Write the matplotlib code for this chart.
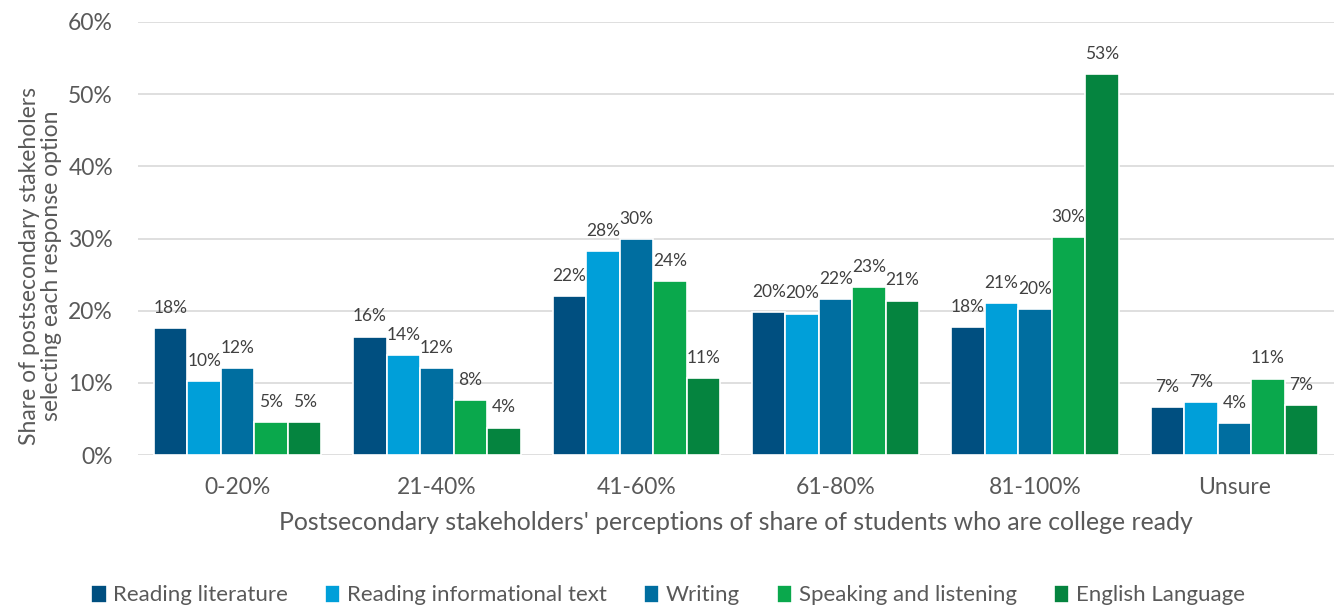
import matplotlib
matplotlib.use("Agg")
import matplotlib.pyplot as plt
import numpy as np

categories = ["0-20%", "21-40%", "41-60%", "61-80%", "81-100%", "Unsure"]
series_names = ["Reading literature", "Reading informational text", "Writing",
                "Speaking and listening", "English Language"]
reading_literature = [17.6, 16.4, 22.0, 19.8, 17.7, 6.6]
reading_informational = [10.2, 13.8, 28.3, 19.6, 21.0, 7.3]
writing = [12.0, 12.0, 29.9, 21.6, 20.2, 4.4]
speaking_listening = [4.6, 7.6, 24.1, 23.3, 30.2, 10.6]
english_language = [4.6, 3.8, 10.7, 21.4, 52.8, 6.9]
colors = ["#004F80", "#009FD9", "#006EA0", "#0AA84C", "#05843F"]

series = [reading_literature, reading_informational, writing, speaking_listening, english_language]

plt.rcParams['font.family'] = ['Lato', 'DejaVu Sans']
fig = plt.figure(figsize=(13.34, 6.07), dpi=100)
ax = fig.add_axes([138/1334, 1-455/607, 1196/1334, 433/607])

x = np.arange(len(categories))
slot = 0.168
bw = 0.168
for i, (vals, name, c) in enumerate(zip(series, series_names, colors)):
    pos = x + (i - 2) * slot
    bars = ax.bar(pos, vals, width=bw, color=c, edgecolor="white", linewidth=1.2, label=name, zorder=3)
    for b, v in zip(bars, vals):
        ax.text(b.get_x() + b.get_width()/2, v + 1.7, f"{round(v):.0f}%", ha="center", va="bottom",
                fontsize=12.5, color="#404040")

ax.set_xlim(-0.5, 5.5)
ax.set_ylim(0, 60)
ax.set_yticks(range(0, 61, 10))
ax.set_yticklabels([f"{t}%" for t in range(0, 61, 10)], fontsize=16.5, color="#595959")
ax.set_xticks(x)
ax.set_xticklabels(categories, fontsize=16.5, color="#595959")
ax.tick_params(axis="y", length=0, pad=18)
ax.tick_params(axis="x", length=0, pad=16)
for s in ax.spines.values():
    s.set_visible(False)
ax.grid(axis="y", color="#D9D9D9", linewidth=1.2, zorder=0)
ax.set_axisbelow(True)
ax.set_xlabel("Postsecondary stakeholders' perceptions of share of students who are college ready",
              fontsize=17.8, color="#595959")
ax.xaxis.set_label_coords(0.5, -(511-455)/433)
ax.set_ylabel("Share of postsecondary stakeholers\nselecting each response option",
              fontsize=16.5, color="#595959", linespacing=1.05)
ax.yaxis.set_label_coords((62-138)/1196, (455-266)/433)
leg = fig.legend(loc="center", bbox_to_anchor=(668/1334, 1-595/607), ncol=5, frameon=False,
                 fontsize=16, handlelength=0.7, handleheight=0.9, handletextpad=0.3, columnspacing=1.65,
                 labelcolor="#595959")
fig.savefig("out.png", dpi=100)
